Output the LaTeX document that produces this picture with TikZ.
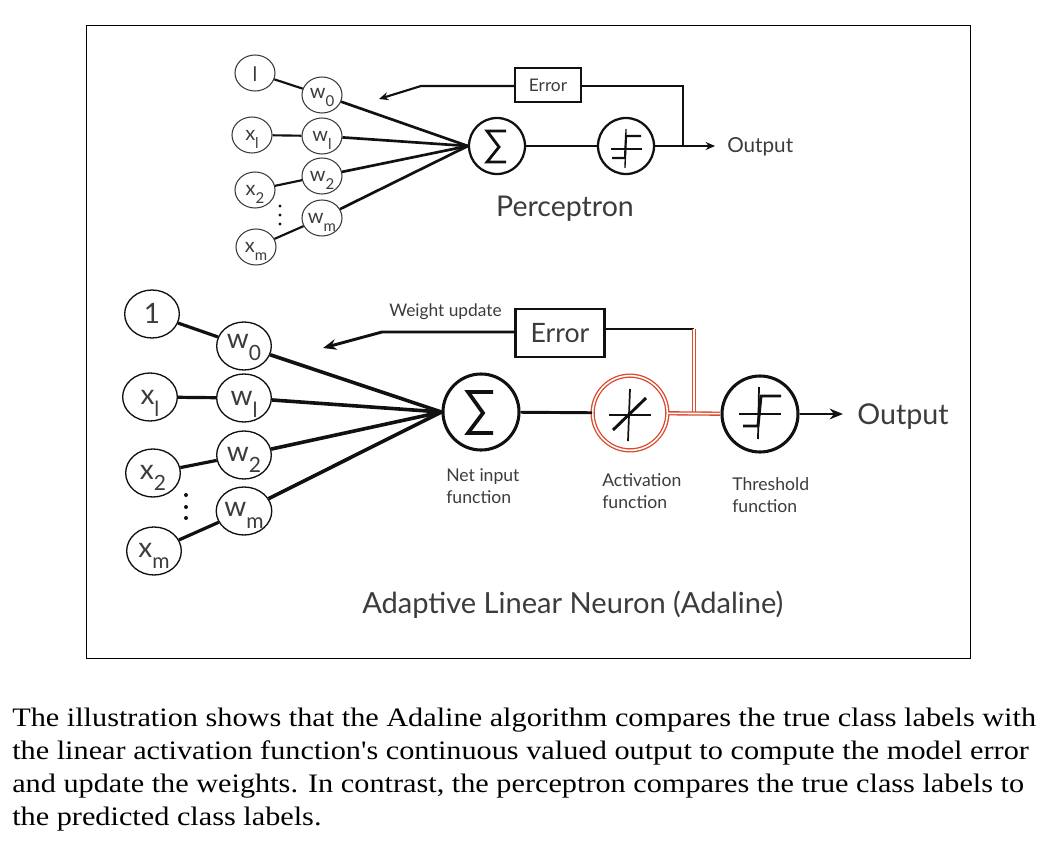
\documentclass[tikz,border=0pt]{standalone}
\usepackage{fontspec}
\usetikzlibrary{shapes.geometric,arrows.meta}
\setmainfont{Lato}
\newfontfamily\capfont{Liberation Serif}[FakeStretch=1.135]
\definecolor{ink}{HTML}{111111}
\definecolor{txt}{HTML}{3C3C3C}
\definecolor{redl}{HTML}{DB4A2F}
\newcommand{\sbs}[1]{\raisebox{-0.42em}{\scalebox{0.75}{#1}}}
\tikzset{
  inTop/.style={ellipse,draw=txt,line width=0.8pt,inner sep=0pt,minimum width=30pt,minimum height=27pt,text=txt,text height=8pt,text depth=0pt,font=\fontsize{15}{15}\selectfont},
  inBot/.style={ellipse,draw=ink,line width=1pt,inner sep=0pt,minimum width=41pt,minimum height=36pt,text=txt,text height=9pt,text depth=0pt,font=\fontsize{21}{21}\selectfont},
  opTop/.style={circle,draw=ink,line width=1.7pt,inner sep=0pt,minimum size=42pt},
  opBot/.style={circle,draw=ink,line width=2.3pt,inner sep=0pt,minimum size=57pt},
  actBot/.style={circle,draw=redl,line width=1pt,double=white,double distance=1.2pt,inner sep=0pt,minimum size=56pt},
  boxTop/.style={rectangle,draw=ink,line width=1.3pt,inner sep=0pt,minimum width=49.5pt,minimum height=26pt,text=txt,font=\fontsize{13}{13}\selectfont},
  boxBot/.style={rectangle,draw=ink,line width=2.2pt,inner sep=0pt,minimum width=67pt,minimum height=36pt,text=txt,font=\fontsize{20}{20}\selectfont},
  wTop/.style={line width=2pt,draw=ink},
  wBot/.style={line width=2.7pt,draw=ink},
  fTop/.style={line width=1.6pt,draw=ink},
  fBot/.style={line width=2.2pt,draw=ink},
  thin1/.style={line width=1pt,draw=ink},
  thin2/.style={line width=1.3pt,draw=ink},
  arrTop/.style={-{Stealth[length=7pt,width=6pt]}},
  arrBot/.style={-{Stealth[length=10pt,width=8pt]}},
  redpipe/.style={draw=redl,line width=1pt,double=white,double distance=1.2pt},
  lab/.style={text=txt,inner sep=0pt},
  smallLab/.style={lab,align=left,font=\fontsize{13.2}{17}\selectfont},
}
\begin{document}
\begin{tikzpicture}[x=0.75pt,y=-0.75pt]
\path[use as bounding box,fill=white] (0,0) rectangle (1050,853);
\node[draw=black,line width=0.75pt,rectangle,inner sep=0pt,minimum width=663pt,minimum height=474.75pt,anchor=north west] (frame) at (86,25) {};

% ---------- Perceptron
\node[inTop,text height=13pt] (t1) at (255,73) {l};
\node[inTop] (tx1) at (252,135) {x\sbs{l}};
\node[inTop] (tx2) at (255,190) {x\sbs{2}};
\node[inTop] (txm) at (256,247) {x\sbs{m}};
\node[inTop,text height=5pt] (tw0) at (322,95) {w\sbs{0}};
\node[inTop] (tw1) at (322,136) {w\sbs{l}};
\node[inTop] (tw2) at (322,176) {w\sbs{2}};
\node[inTop] (twm) at (322,218) {w\sbs{m}};
\node[opTop] (ts) at (497,146) {};
\node[opTop] (tt) at (626,146) {};
\node[boxTop] (te) at (548,85) {Error};
\node[lab,anchor=west,font=\fontsize{15.5}{15.5}\selectfont] (tout) at (727,147) {Output};
\node[lab,font=\fontsize{21.4}{21.4}\selectfont] (tname) at (565,209) {Perceptron};
\coordinate (tj1) at (683,86);
\coordinate (tj2) at (683,146);
\coordinate (tb) at (421,86);
\coordinate (ttip) at (379,99);
\coordinate (tend) at (715,146);

\foreach \a/\b in {t1/tw0,tx1/tw1,tx2/tw2,txm/twm}{\draw[line width=1.6pt,draw=ink] (\a) -- (\b);}
\foreach \a in {tw0,tw1,tw2,twm}{\draw[wTop] (\a) -- (ts.west);}
\draw[fTop] (ts) -- (tt);
\draw[fTop] (te.east |- tj1) -- (tj1) -- (tj2);
\draw[fTop,arrTop] (tt) -- (tend);
\draw[fTop,arrTop] (te.west |- tb) -- (tb) -- (ttip);
\foreach \y in {206,215,224}{\fill[ink] (280,\y) circle (1.6);}
\begin{scope}[shift={(ts.center)}]
\draw[line width=2.1pt,draw=ink,line join=miter] (9,-15) -- (-10,-15) -- (2,1) -- (-10,16) -- (9,16);
\end{scope}
\begin{scope}[shift={(tt.center)}]
\draw[thin1] (0,-17) -- (-1,22);
\draw[thin1] (-15,3) -- (16,3);
\draw[fTop] (-14,12) -- (-1,12) -- (0,-10) -- (15,-10);
\end{scope}

% ---------- Adaline
\node[inBot,text height=14pt] (b1) at (152,314) {1};
\node[inBot,text height=11pt] (bx1) at (150,397) {x\sbs{l}};
\node[inBot] (bx2) at (153,473) {x\sbs{2}};
\node[inBot] (bxm) at (154,551) {x\sbs{m}};
\node[inBot,text height=4pt] (bw0) at (244,346) {w\sbs{0}};
\node[inBot,text height=11pt] (bw1) at (244,398) {w\sbs{l}};
\node[inBot] (bw2) at (244,455) {w\sbs{2}};
\node[inBot,text height=8pt] (bwm) at (244,511) {w\sbs{m}};
\node[opBot] (bs) at (481,412) {};
\node[actBot] (ba) at (630,413) {};
\node[opBot] (bt) at (760,414) {};
\node[boxBot] (be) at (560,333) {Error};
\node[lab,anchor=west,font=\fontsize{21.5}{21.5}\selectfont] (bout) at (857,417) {Output};
\node[lab,anchor=west,font=\fontsize{13}{13}\selectfont] (bwu) at (389,312) {Weight update};
\node[smallLab,anchor=north west] (ln) at (446,468) {Net input\\function};
\node[smallLab,anchor=north west] (la) at (602,473) {Activation\\function};
\node[smallLab,anchor=north west] (lt) at (732,477) {Threshold\\function};
\node[lab,anchor=west,font=\fontsize{21.8}{21.8}\selectfont] (bname) at (362,605) {Adaptive Linear Neuron (Adaline)};
\coordinate (bj1) at (694,329);
\coordinate (bj2) at (694,413);
\coordinate (bb) at (382,332);
\coordinate (btip) at (323,348);
\coordinate (bend) at (843,414);

\foreach \a/\b in {b1/bw0,bx1/bw1,bx2/bw2,bxm/bwm}{\draw[wBot,line width=2.4pt] (\a) -- (\b);}
\foreach \a in {bw0,bw1,bw2,bwm}{\draw[wBot] (\a) -- (bs.west);}
\draw[fBot] (bs) -- (ba);
\draw[fBot] (be.east |- bj1) -- (bj1);
\draw[fBot,arrBot] (bt) -- (bend);
\draw[fBot,arrBot] (be.west |- bb) -- (bb) -- (btip);
\draw[redpipe] (bj1) -- (bj2);
\draw[redpipe] (ba) -- (bt);
\foreach \y in {495,507,518}{\fill[ink] (186,\y) circle (2);}
\begin{scope}[shift={(bs.center)}]
\draw[line width=2.8pt,draw=ink] (12,-20) -- (-13,-20) -- (2,1) -- (-13,21) -- (12,21);
\end{scope}
\begin{scope}[shift={(ba.center)}]
\draw[thin2] (0,-24) -- (-2,28);
\draw[thin2] (-21,2) -- (21,2);
\draw[fBot] (-17,17) -- (16,-15);
\end{scope}
\begin{scope}[shift={(bt.center)}]
\draw[thin2] (-1,-27) -- (-2,25);
\draw[thin2] (-21,0) -- (21,0);
\draw[fBot] (-17,12) -- (-2,12) -- (1,-18) -- (21,-18);
\end{scope}

% ---------- Caption
\node[anchor=north west,inner sep=0pt,align=left,text=black,font=\capfont\fontsize{20}{24.75}\selectfont] (cap) at (12,708) {The illustration shows that the Adaline algorithm compares the true class labels with\\
the linear activation function's continuous valued output to compute the model error\\
and update the weights. In contrast, the perceptron compares the true class labels to\\
the predicted class labels.};
\end{tikzpicture}
\end{document}
